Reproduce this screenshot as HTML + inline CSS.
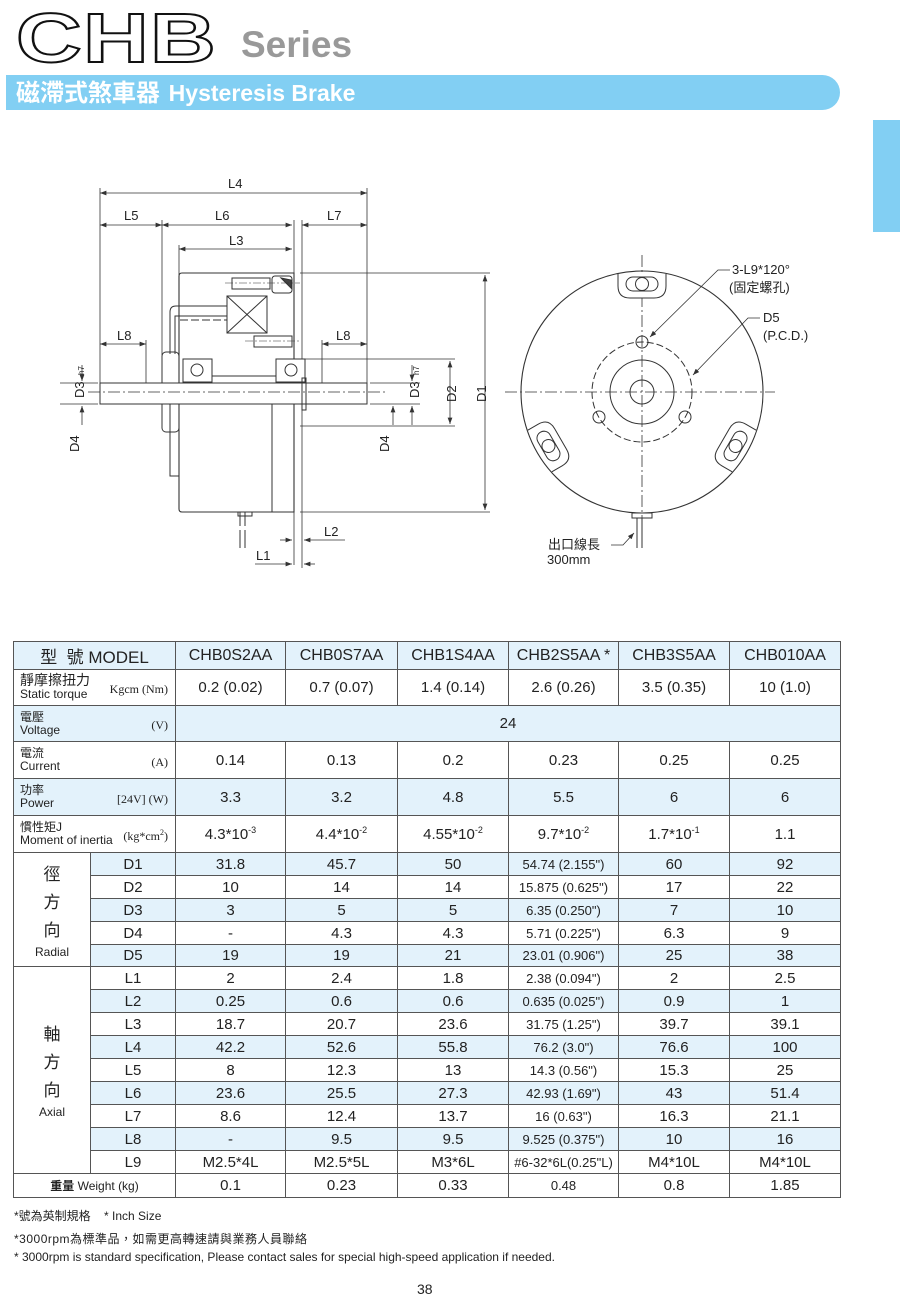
<!DOCTYPE html>
<html><head><meta charset="utf-8">
<style>
body{margin:0;background:#fff;}
#p{position:relative;width:900px;height:1302px;overflow:hidden;font-family:"Liberation Sans","Noto Sans CJK TC",sans-serif;color:#222;}
.a{position:absolute;}
table{position:absolute;left:13px;top:641px;border-collapse:collapse;table-layout:fixed;width:827px;}
td{border:1px solid #555;padding:0;text-align:center;font-size:15px;white-space:nowrap;overflow:hidden;}
tr.b td.v,tr.b td.s{background:#e3f2fb;}
tr.hd td{background:#e3f2fb;font-size:16px;}
.lbl{text-align:left;padding-left:6px;font-size:12px;line-height:13px;position:relative;}
.lbl .u{position:absolute;right:7px;bottom:9px;font-family:"Liberation Serif",serif;font-size:12px;}
.sm{font-size:13px;}
.grp{font-size:17px;line-height:28px;}
.grp small{font-size:12px;display:block;line-height:14px;}
</style></head><body><div id="p">

<!-- Header -->
<div class="a" style="left:16px;top:-2px;font-size:70px;line-height:80px;font-weight:bold;color:#fff;-webkit-text-stroke:2px #111;transform:scaleX(1.3);transform-origin:0 0;letter-spacing:1px;font-family:'Liberation Sans',sans-serif;">CHB</div>
<div class="a" style="left:241px;top:24px;font-size:37px;font-weight:bold;color:#999;">Series</div>
<div class="a" style="left:6px;top:75px;width:834px;height:35px;background:#82cff3;border-radius:0 18px 18px 0;"></div>
<div class="a" style="left:16px;top:78px;font-size:24px;font-weight:bold;color:#fff;line-height:30px;">磁滯式煞車器 <span style="font-size:23px;margin-left:2px">Hysteresis Brake</span></div>
<div class="a" style="left:873px;top:120px;width:27px;height:112px;background:#82cff3;"></div>

<!-- Drawing -->
<svg class="a" style="left:0;top:0" width="900" height="640" viewBox="0 0 900 640" fill="none" stroke="#333" stroke-width="1" font-family="Liberation Sans, Noto Sans CJK TC, sans-serif">
<defs><marker id="ar" markerWidth="8" markerHeight="6" refX="8" refY="3" orient="auto-start-reverse"><path d="M0,0 L8,3 L0,6 z" fill="#333" stroke="none"/></marker></defs>
<g stroke-width="0.8">
<line x1="100" y1="188" x2="100" y2="400"/>
<line x1="162" y1="220" x2="162" y2="355"/>
<line x1="179" y1="245" x2="179" y2="275"/>
<line x1="294" y1="220" x2="294" y2="565"/>
<line x1="302" y1="220" x2="302" y2="568"/>
<line x1="367" y1="188" x2="367" y2="385"/>
<line x1="300" y1="273" x2="490" y2="273"/>
<line x1="300" y1="512" x2="490" y2="512"/>
<line x1="300" y1="359" x2="455" y2="359"/>
<line x1="300" y1="426" x2="455" y2="426"/>
<line x1="146" y1="340" x2="146" y2="383"/>
<line x1="322" y1="340" x2="322" y2="383"/>
<line x1="370" y1="383" x2="420" y2="383"/>
<line x1="370" y1="404" x2="420" y2="404"/>
<line x1="60" y1="383" x2="98" y2="383"/>
<line x1="60" y1="404" x2="98" y2="404"/>
<line x1="100" y1="193" x2="367" y2="193" marker-start="url(#ar)" marker-end="url(#ar)"/>
<line x1="100" y1="225" x2="162" y2="225" marker-start="url(#ar)" marker-end="url(#ar)"/>
<line x1="162" y1="225" x2="292" y2="225" marker-start="url(#ar)" marker-end="url(#ar)"/>
<line x1="302" y1="225" x2="367" y2="225" marker-start="url(#ar)" marker-end="url(#ar)"/>
<line x1="179" y1="249" x2="292" y2="249" marker-start="url(#ar)" marker-end="url(#ar)"/>
<line x1="100" y1="344" x2="146" y2="344" marker-start="url(#ar)" marker-end="url(#ar)"/>
<line x1="322" y1="344" x2="367" y2="344" marker-start="url(#ar)" marker-end="url(#ar)"/>
<line x1="485" y1="275" x2="485" y2="510" marker-start="url(#ar)" marker-end="url(#ar)"/>
<line x1="450" y1="361" x2="450" y2="424" marker-start="url(#ar)" marker-end="url(#ar)"/>
<line x1="412" y1="365" x2="412" y2="381" marker-end="url(#ar)"/>
<line x1="412" y1="425" x2="412" y2="406" marker-end="url(#ar)"/>
<line x1="82" y1="365" x2="82" y2="381" marker-end="url(#ar)"/>
<line x1="82" y1="425" x2="82" y2="406" marker-end="url(#ar)"/>
<line x1="393" y1="425" x2="393" y2="406" marker-end="url(#ar)"/>
<line x1="280" y1="540" x2="292" y2="540" marker-end="url(#ar)"/>
<line x1="345" y1="540" x2="304" y2="540" marker-end="url(#ar)"/>
<line x1="255" y1="564" x2="292" y2="564" marker-end="url(#ar)"/>
<line x1="315" y1="564" x2="304" y2="564" marker-end="url(#ar)"/>
</g>
<path d="M182,273 H294 V512 H182 Q179,512 179,509 V276 Q179,273 182,273 Z" stroke-width="1.1"/>
<line x1="272" y1="392" x2="272" y2="512"/>
<rect x="162" y="352" width="17" height="80" rx="4"/>
<rect x="170" y="392" width="9" height="84"/>
<rect x="100" y="383" width="267" height="21" fill="#fff"/>
<line x1="88" y1="392" x2="385" y2="392" stroke-dasharray="12,3,2,3" stroke-width="0.8"/>
<rect x="183" y="359" width="29" height="23" fill="#fff"/>
<circle cx="197" cy="370" r="6"/>
<rect x="276" y="359" width="29" height="23" fill="#fff"/>
<circle cx="291" cy="370" r="6"/>
<line x1="212" y1="376" x2="276" y2="376"/>
<rect x="227" y="296" width="40" height="37"/>
<line x1="227" y1="296" x2="267" y2="333"/><line x1="267" y1="296" x2="227" y2="333"/>
<path d="M170,354 V312 Q170,306 176,306 H227 M175,354 V316 H227"/>
<line x1="180" y1="320" x2="227" y2="320" stroke-dasharray="8,3"/>
<rect x="232" y="278" width="38" height="11"/>
<rect x="272" y="276" width="20" height="17" rx="3"/>
<path d="M281,278 L291,288 L291,280 Z" fill="#444"/>
<rect x="254" y="336" width="38" height="11"/>
<line x1="225" y1="283" x2="300" y2="283" stroke-dasharray="8,2,2,2" stroke-width="0.6"/>
<line x1="245" y1="341" x2="300" y2="341" stroke-dasharray="8,2,2,2" stroke-width="0.6"/>
<rect x="302" y="378" width="4" height="32"/>
<path d="M240,512 v14 M245,512 v14 M240,530 v18 M245,530 v18" />
<rect x="238" y="512" width="14" height="4"/>
<g fill="#222" stroke="none" font-size="13">
<text x="228" y="188">L4</text><text x="124" y="220">L5</text><text x="215" y="220">L6</text>
<text x="327" y="220">L7</text><text x="229" y="245">L3</text><text x="117" y="340">L8</text>
<text x="336" y="340">L8</text><text x="324" y="536">L2</text><text x="256" y="560">L1</text>
<text transform="translate(84,398) rotate(-90)">D3</text>
<text transform="translate(84,375) rotate(-90)" font-size="8">h7</text>
<text transform="translate(419,398) rotate(-90)">D3</text>
<text transform="translate(419,375) rotate(-90)" font-size="8">h7</text>
<text transform="translate(456,402) rotate(-90)">D2</text>
<text transform="translate(486,402) rotate(-90)">D1</text>
<text transform="translate(79,452) rotate(-90)">D4</text>
<text transform="translate(389,452) rotate(-90)">D4</text>
</g>
<circle cx="642" cy="392" r="121" stroke-width="1.1"/>
<circle cx="642" cy="392" r="50" stroke-dasharray="7,3"/>
<circle cx="642" cy="392" r="32"/>
<circle cx="642" cy="392" r="12"/>
<line x1="505" y1="392" x2="775" y2="392" stroke-dasharray="12,3,2,3" stroke-width="0.8"/>
<line x1="642" y1="255" x2="642" y2="540" stroke-dasharray="12,3,2,3" stroke-width="0.8"/>
<circle cx="642" cy="342" r="6"/><circle cx="599" cy="417" r="6"/><circle cx="685" cy="417" r="6"/>
<g id="sl"><path d="M618,274 V286 Q618,298 630,298 H654 Q666,298 666,286 V274" fill="#fff"/><rect x="626" y="277" width="32" height="14" rx="7"/><circle cx="642" cy="284" r="6.5"/></g>
<use href="#sl" transform="rotate(120 642 392)"/>
<use href="#sl" transform="rotate(-120 642 392)"/>
<rect x="632" y="513" width="20" height="5"/>
<path d="M637,518 v30 M642,518 v30"/>
<polyline points="730,270 718,270 650,337" marker-end="url(#ar)" stroke-width="0.8"/>
<polyline points="760,318 748,318 693,375" marker-end="url(#ar)" stroke-width="0.8"/>
<polyline points="611,545 623,545 634,533" marker-end="url(#ar)" stroke-width="0.8"/>
<g fill="#222" stroke="none" font-size="13">
<text x="732" y="274">3-L9*120°</text><text x="729" y="292">(固定螺孔)</text>
<text x="763" y="322">D5</text><text x="763" y="340">(P.C.D.)</text>
<text x="548" y="549">出口線長</text><text x="547" y="564">300mm</text>
</g>
</svg>

<table>
<colgroup><col style="width:77px"><col style="width:85px"><col style="width:110px"><col style="width:112px"><col style="width:111px"><col style="width:110px"><col style="width:111px"><col style="width:111px"></colgroup>
<tr class="hd" style="height:28px"><td colspan="2" style="font-size:17px">型 &nbsp;號 MODEL</td><td>CHB0S2AA</td><td>CHB0S7AA</td><td>CHB1S4AA</td><td>CHB2S5AA *</td><td>CHB3S5AA</td><td>CHB010AA</td></tr>
<tr style="height:36px"><td colspan="2" class="lbl"><span style="font-size:14px">靜摩擦扭力</span><br>Static torque<span class="u">Kgcm (Nm)</span></td><td>0.2 (0.02)</td><td>0.7 (0.07)</td><td>1.4 (0.14)</td><td>2.6 (0.26)</td><td>3.5 (0.35)</td><td>10 (1.0)</td></tr>
<tr style="height:36px;background:#e3f2fb"><td colspan="2" class="lbl" style="background:#e3f2fb">電壓<br>Voltage<span class="u">(V)</span></td><td colspan="6" style="background:#e3f2fb">24</td></tr>
<tr style="height:37px"><td colspan="2" class="lbl">電流<br>Current<span class="u">(A)</span></td><td>0.14</td><td>0.13</td><td>0.2</td><td>0.23</td><td>0.25</td><td>0.25</td></tr>
<tr style="height:37px"><td colspan="2" class="lbl" style="background:#e3f2fb">功率<br>Power<span class="u">[24V] (W)</span></td><td style="background:#e3f2fb">3.3</td><td style="background:#e3f2fb">3.2</td><td style="background:#e3f2fb">4.8</td><td style="background:#e3f2fb">5.5</td><td style="background:#e3f2fb">6</td><td style="background:#e3f2fb">6</td></tr>
<tr style="height:37px"><td colspan="2" class="lbl">慣性矩J<br>Moment of inertia<span class="u">(kg*cm<sup style="font-size:8px">2</sup>)</span></td><td>4.3*10<sup style="font-size:9px">-3</sup></td><td>4.4*10<sup style="font-size:9px">-2</sup></td><td>4.55*10<sup style="font-size:9px">-2</sup></td><td>9.7*10<sup style="font-size:9px">-2</sup></td><td>1.7*10<sup style="font-size:9px">-1</sup></td><td>1.1</td></tr>
<tr class="b" style="height:23px"><td rowspan="5" class="grp">徑<br>方<br>向<small>Radial</small></td><td class="s">D1</td><td class="v">31.8</td><td class="v">45.7</td><td class="v">50</td><td class="v sm">54.74 (2.155")</td><td class="v">60</td><td class="v">92</td></tr>
<tr style="height:23px"><td>D2</td><td>10</td><td>14</td><td>14</td><td class="sm">15.875 (0.625")</td><td>17</td><td>22</td></tr>
<tr class="b" style="height:23px"><td class="s">D3</td><td class="v">3</td><td class="v">5</td><td class="v">5</td><td class="v sm">6.35 (0.250")</td><td class="v">7</td><td class="v">10</td></tr>
<tr style="height:23px"><td>D4</td><td>-</td><td>4.3</td><td>4.3</td><td class="sm">5.71 (0.225")</td><td>6.3</td><td>9</td></tr>
<tr class="b" style="height:22px"><td class="s">D5</td><td class="v">19</td><td class="v">19</td><td class="v">21</td><td class="v sm">23.01 (0.906")</td><td class="v">25</td><td class="v">38</td></tr>
<tr style="height:23px"><td rowspan="9" class="grp">軸<br>方<br>向<small>Axial</small></td><td>L1</td><td>2</td><td>2.4</td><td>1.8</td><td class="sm">2.38 (0.094")</td><td>2</td><td>2.5</td></tr>
<tr class="b" style="height:23px"><td class="s">L2</td><td class="v">0.25</td><td class="v">0.6</td><td class="v">0.6</td><td class="v sm">0.635 (0.025")</td><td class="v">0.9</td><td class="v">1</td></tr>
<tr style="height:23px"><td>L3</td><td>18.7</td><td>20.7</td><td>23.6</td><td class="sm">31.75 (1.25")</td><td>39.7</td><td>39.1</td></tr>
<tr class="b" style="height:23px"><td class="s">L4</td><td class="v">42.2</td><td class="v">52.6</td><td class="v">55.8</td><td class="v sm">76.2 (3.0")</td><td class="v">76.6</td><td class="v">100</td></tr>
<tr style="height:23px"><td>L5</td><td>8</td><td>12.3</td><td>13</td><td class="sm">14.3 (0.56")</td><td>15.3</td><td>25</td></tr>
<tr class="b" style="height:23px"><td class="s">L6</td><td class="v">23.6</td><td class="v">25.5</td><td class="v">27.3</td><td class="v sm">42.93 (1.69")</td><td class="v">43</td><td class="v">51.4</td></tr>
<tr style="height:23px"><td>L7</td><td>8.6</td><td>12.4</td><td>13.7</td><td class="sm">16 (0.63")</td><td>16.3</td><td>21.1</td></tr>
<tr class="b" style="height:23px"><td class="s">L8</td><td class="v">-</td><td class="v">9.5</td><td class="v">9.5</td><td class="v sm">9.525 (0.375")</td><td class="v">10</td><td class="v">16</td></tr>
<tr style="height:23px"><td>L9</td><td>M2.5*4L</td><td>M2.5*5L</td><td>M3*6L</td><td class="sm">#6-32*6L(0.25"L)</td><td>M4*10L</td><td>M4*10L</td></tr>
<tr style="height:24px"><td colspan="2" style="font-size:12px"><b>重量</b> Weight (kg)</td><td>0.1</td><td>0.23</td><td>0.33</td><td class="sm">0.48</td><td>0.8</td><td>1.85</td></tr>
</table>

<div class="a" style="left:14px;top:1207px;font-size:12px">*號為英制規格 &nbsp;&nbsp; * Inch Size</div>
<div class="a" style="left:14px;top:1230px;font-size:12px;letter-spacing:0.5px">*3000rpm為標準品，如需更高轉速請與業務人員聯絡</div>
<div class="a" style="left:14px;top:1250px;font-size:12px">* 3000rpm is standard specification, Please contact sales for special high-speed application if needed.</div>
<div class="a" style="left:417px;top:1281px;font-size:14px">38</div>
</div></body></html>
